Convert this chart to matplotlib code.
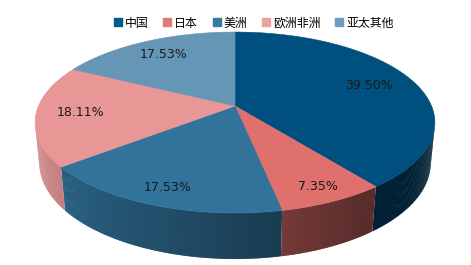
import numpy as np
import matplotlib
matplotlib.use("Agg")
import matplotlib.pyplot as plt
from matplotlib.patches import Polygon
from matplotlib.lines import Line2D
from matplotlib.colors import to_rgb

# Regional share data
regions = ["中国", "日本", "美洲", "欧洲非洲", "亚太其他"]
shares = [39.50, 7.35, 17.53, 18.11, 17.53]
labels = ["39.50%", "7.35%", "17.53%", "18.11%", "17.53%"]
top_colors = ["#00507f", "#e0706e", "#31739b", "#e89796", "#6596b6"]
legend_colors = ["#005a8c", "#e07a76", "#3b7aa0", "#eea1a0", "#6d9ec0"]
label_radius = [0.75, 0.87, 0.85, 0.78, 0.78]

W, H, DPI = 471, 265, 100
fig = plt.figure(figsize=(W / DPI, H / DPI), dpi=DPI)
ax = fig.add_axes([0, 0, 1, 1])
ax.set_xlim(0, W)
ax.set_ylim(H, 0)
ax.axis("off")

# Perspective camera for the tilted disc
X0, Y0 = 235.0, 106.0
F, D = 965.0, 4.91
SPHI = 0.445
CPHI = np.sqrt(1 - SPHI ** 2)
THICK = 0.232


def proj(u, v, z=0.0):
    zc = D + v * CPHI - z * SPHI
    xs = X0 + F * u / zc
    ys = Y0 - F * (v * SPHI + z * CPHI) / zc
    return xs, ys


def disc_point(theta_deg, r=1.0, z=0.0):
    th = np.radians(theta_deg)
    return proj(r * np.sin(th), r * np.cos(th), z)


def shade(rgb, u):
    f = np.clip(0.58 - 0.32 * u, 0.4, 0.92)
    return tuple(c * f for c in rgb)


total = sum(shares)
bounds = np.concatenate([[0], np.cumsum(shares) / total * 360.0])

# Side wall (only the front-facing part is visible); strips overlap to hide seams
lim = np.degrees(np.arccos(-1.0 / (D * CPHI)))
vis_lo, vis_hi = lim, 360.0 - lim
step = 0.5
for i in range(len(shares)):
    a0, a1 = max(bounds[i], vis_lo), min(bounds[i + 1], vis_hi)
    if a1 <= a0:
        continue
    base = to_rgb(top_colors[i])
    n = max(2, int(np.ceil((a1 - a0) / step)))
    edges = np.linspace(a0, a1, n + 1)
    for s0, s1 in zip(edges[:-1], edges[1:]):
        e1 = min(s1 + 0.6 * step, a1)
        ths = np.linspace(s0, e1, 3)
        top = [disc_point(t) for t in ths]
        bot = [disc_point(t, z=-THICK) for t in ths[::-1]]
        mid = np.sin(np.radians(0.5 * (s0 + s1)))
        col = shade(base, mid)
        ax.add_patch(Polygon(top + bot, closed=True, facecolor=col,
                             edgecolor="none", linewidth=0))

# Top face slices
for i in range(len(shares)):
    ths = np.linspace(bounds[i], bounds[i + 1], 200)
    pts = [proj(0, 0)] + [disc_point(t) for t in ths]
    ax.add_patch(Polygon(pts, closed=True, facecolor=top_colors[i],
                         edgecolor=top_colors[i], linewidth=0.4))

# Percentage labels
for i in range(len(shares)):
    mid = 0.5 * (bounds[i] + bounds[i + 1])
    x, y = disc_point(mid, r=label_radius[i])
    ax.text(x, y, labels[i], ha="center", va="center", fontsize=9,
            color="#1a1a1a", family="DejaVu Sans")

# Legend
handles = [Line2D([], [], marker="s", linestyle="none", markersize=5.5,
                  markerfacecolor=c, markeredgecolor=c) for c in legend_colors]
fig.legend(handles, regions, loc="center", bbox_to_anchor=(254 / W, 1 - 23 / H),
           ncol=5, frameon=False, handlelength=0.6, handletextpad=0.3,
           columnspacing=1.25, borderpad=0,
           prop={"family": ["Noto Sans CJK SC", "DejaVu Sans"], "size": 8.6})

fig.savefig("out.png", dpi=DPI, facecolor="white")
